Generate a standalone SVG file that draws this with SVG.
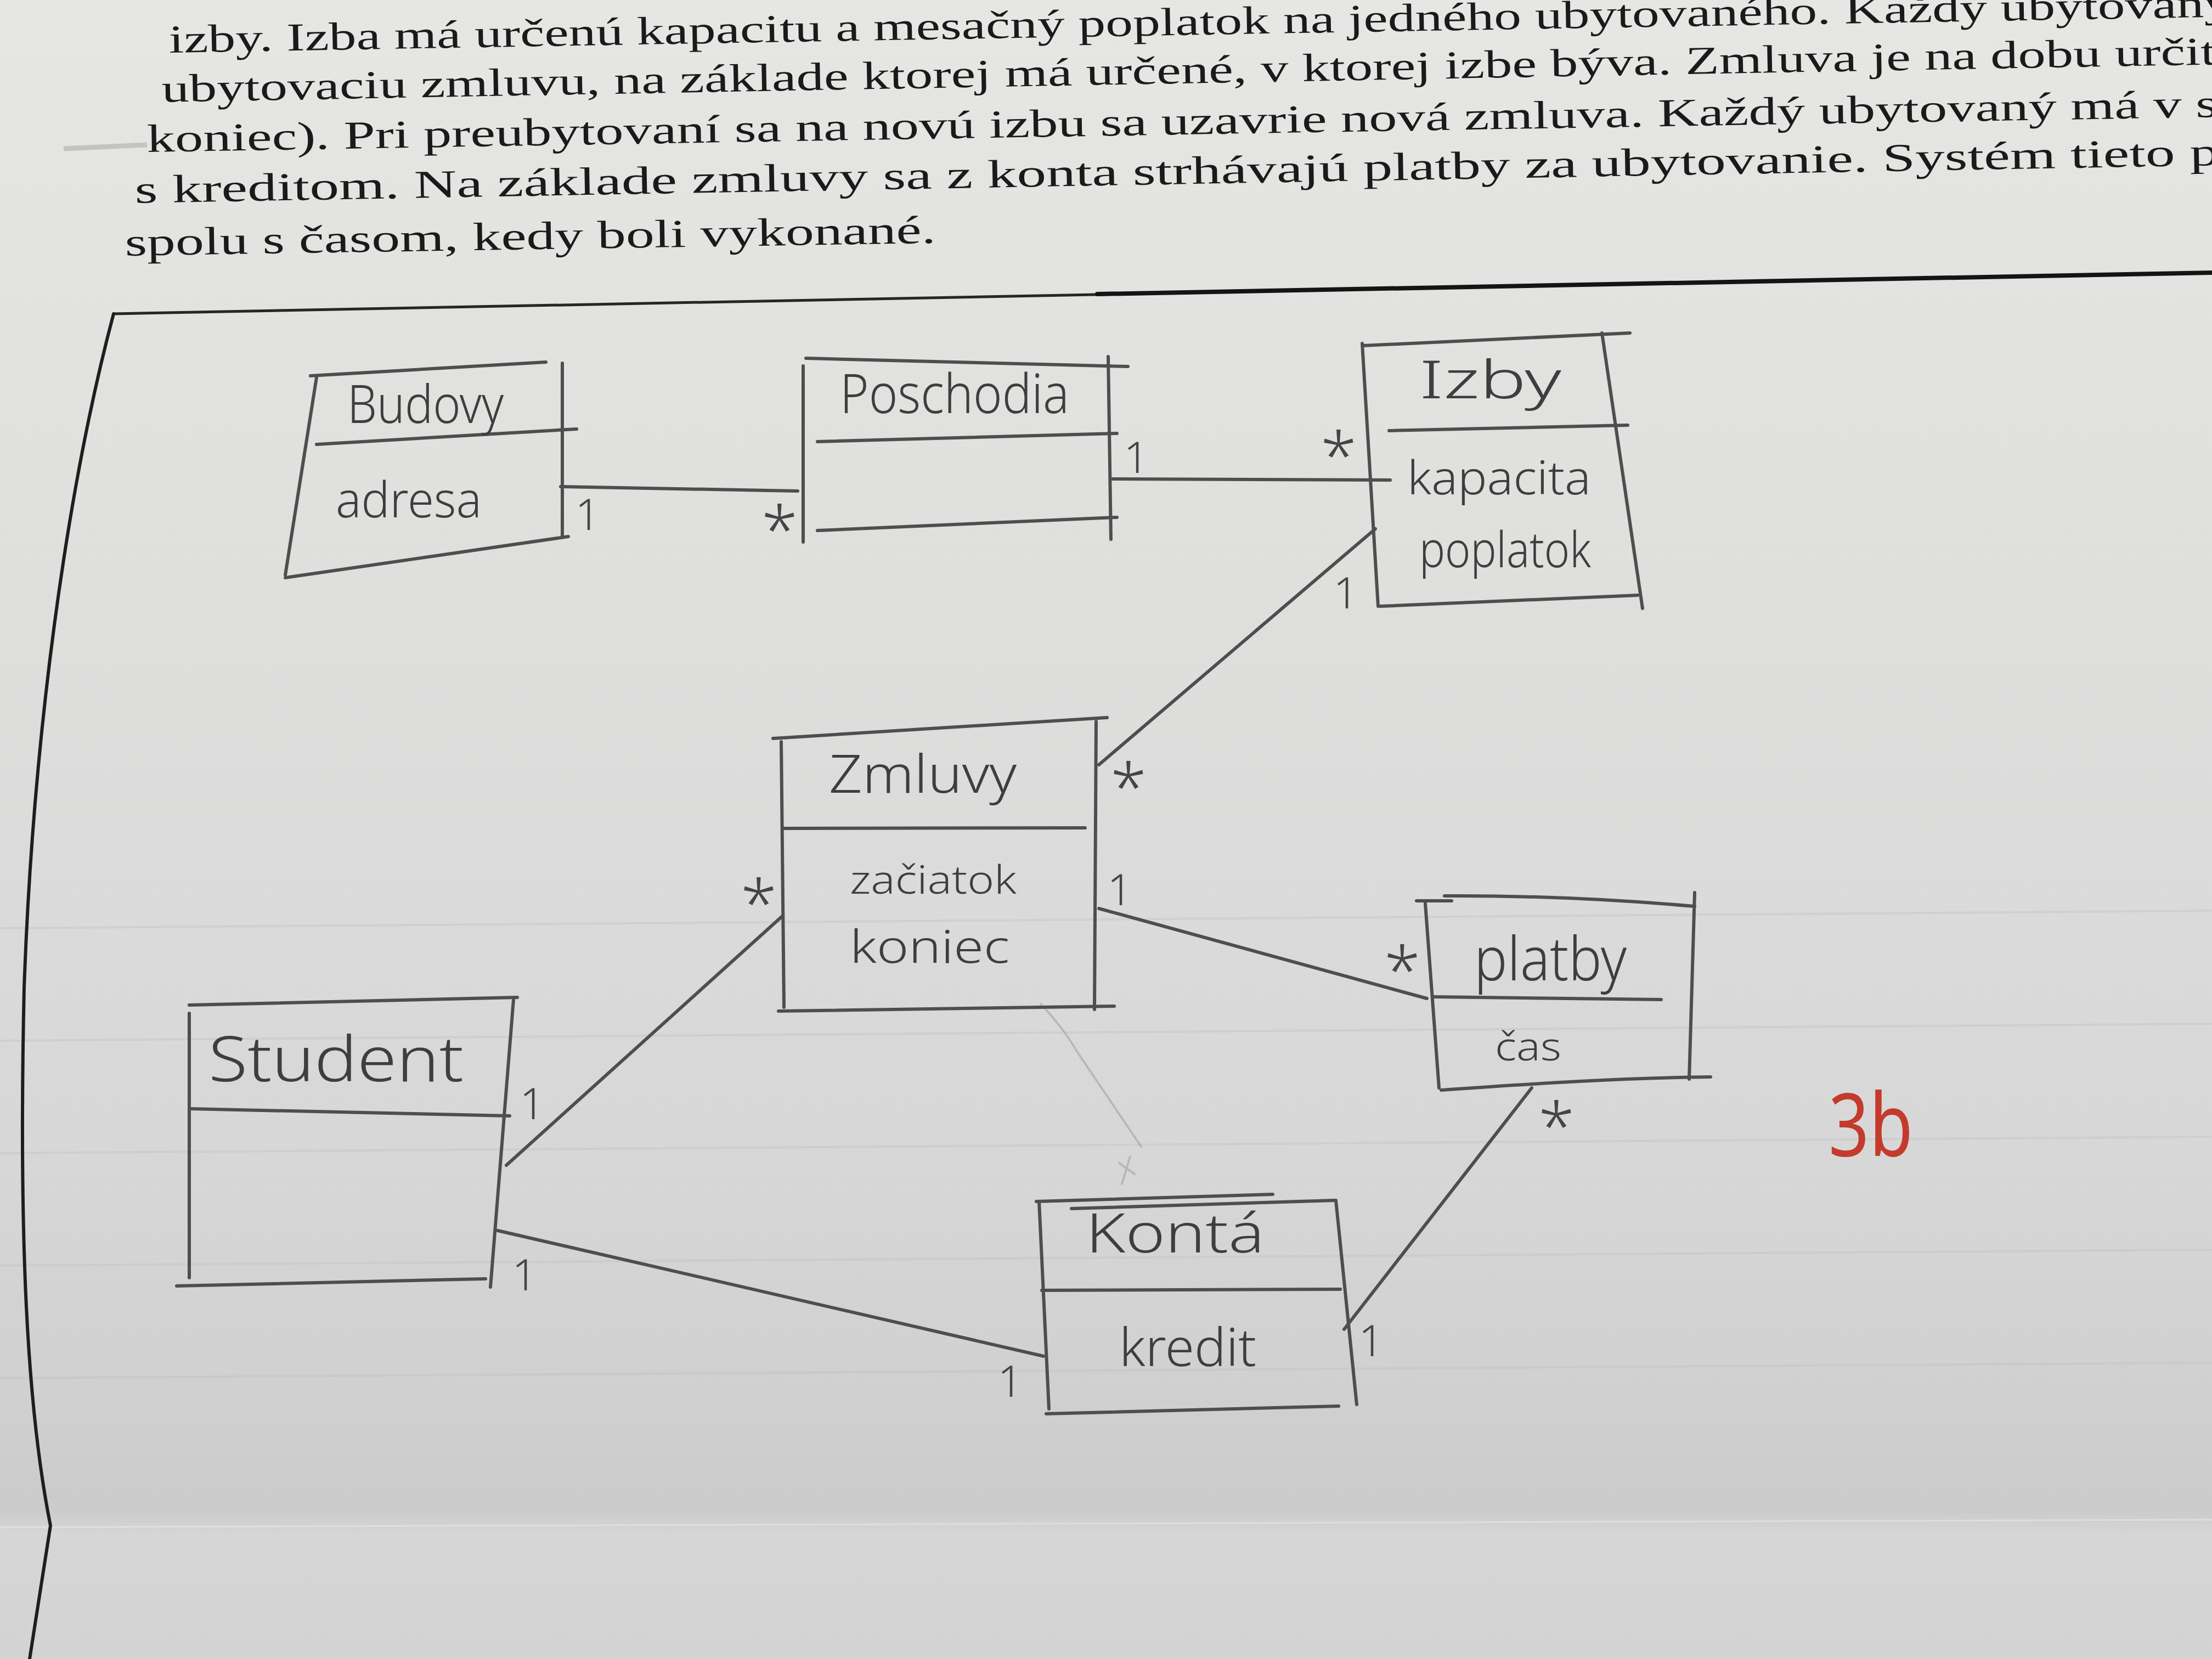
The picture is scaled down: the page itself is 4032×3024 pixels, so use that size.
<svg xmlns="http://www.w3.org/2000/svg" width="4032" height="3024" viewBox="0 0 4032 3024">
  <defs>
    <linearGradient id="paper" x1="0" y1="0" x2="0" y2="1">
      <stop offset="0" stop-color="#e6e6e4"/>
      <stop offset="0.35" stop-color="#dfdfde"/>
      <stop offset="0.7" stop-color="#d7d7d7"/>
      <stop offset="0.84" stop-color="#d0d0d0"/>
      <stop offset="0.91" stop-color="#cbcbcb"/>
      <stop offset="0.925" stop-color="#d6d6d6"/>
      <stop offset="1" stop-color="#d3d3d3"/>
    </linearGradient>
    <style>
      .pen { fill: none; stroke: #4e4e4e; stroke-width: 6; stroke-linecap: round; stroke-linejoin: round; }
      .faint { fill: none; stroke: #8a8a8a; stroke-width: 4; stroke-linecap: round; opacity: 0.4; }
      .ghost { fill: none; stroke: #b8b8b8; stroke-width: 4; opacity: 0.28; }
      .hand { font-family: "Noto Sans", "DejaVu Sans", sans-serif; font-weight: 300; fill: #3e3e3e; }
      .mult { font-family: "Noto Sans", "DejaVu Sans", sans-serif; font-weight: 300; fill: #454545; text-anchor: middle; }
      .one { font-size: 80px; }
      .star { font-size: 120px; }
      .print { font-family: "Liberation Serif", "DejaVu Serif", serif; fill: #1a1a1a; font-size: 72px; }
    </style>
  </defs>

  <!-- paper -->
  <rect x="0" y="0" width="4032" height="3024" fill="url(#paper)"/>

  <!-- faint ruling showing through the sheet -->
  <g id="show-through">
    <path class="ghost" d="M0,1692 L4032,1660"/>
    <path class="ghost" d="M0,1897 L4032,1866"/>
    <path class="ghost" d="M0,2102 L4032,2072"/>
    <path class="ghost" d="M0,2307 L4032,2278"/>
    <path class="ghost" d="M0,2512 L4032,2484"/>
    <path d="M0,2784 L4032,2770" stroke="#ececec" stroke-width="3" opacity="0.5"/>
  </g>

  <!-- printed assignment text -->
  <g id="assignment">
    <text class="print" x="308" y="96" textLength="3760" lengthAdjust="spacingAndGlyphs" transform="rotate(-1 308 96)">izby. Izba má určenú kapacitu a mesačný poplatok na jedného ubytovaného. Každý ubytovaný</text>
    <text class="print" x="295" y="186" textLength="3745" lengthAdjust="spacingAndGlyphs" transform="rotate(-1.05 295 186)">ubytovaciu zmluvu, na základe ktorej má určené, v ktorej izbe býva. Zmluva je na dobu určit</text>
    <text class="print" x="268" y="277" textLength="3775" lengthAdjust="spacingAndGlyphs" transform="rotate(-0.97 268 277)">koniec). Pri preubytovaní sa na novú izbu sa uzavrie nová zmluva. Každý ubytovaný má v s</text>
    <text class="print" x="246" y="370" textLength="3800" lengthAdjust="spacingAndGlyphs" transform="rotate(-1.04 246 370)">s kreditom. Na základe zmluvy sa z konta strhávajú platby za ubytovanie. Systém tieto p</text>
    <text class="print" x="228" y="466" textLength="1478" lengthAdjust="spacingAndGlyphs" transform="rotate(-0.9 228 466)">spolu s časom, kedy boli vykonané.</text>
    <path d="M116,271 L268,264" stroke="#9c9c9c" stroke-width="9" opacity="0.45" fill="none"/>
  </g>

  <!-- answer frame -->
  <g id="frame" fill="none" stroke-linecap="round">
    <path d="M207,572 L4032,497" stroke="#262626" stroke-width="5"/>
    <path d="M2000,536 L4032,497" stroke="#141414" stroke-width="8"/>
    <path d="M207,572 C120,900 60,1350 44,1800 C34,2250 48,2560 92,2781 L54,3024" stroke="#1e1e1e" stroke-width="6"/>
  </g>

  <!-- associations -->
  <g id="connectors">
    <path class="pen" d="M1022,887 L1454,895"/>
    <path class="pen" d="M2025,873 L2534,875"/>
    <path class="pen" d="M2003,1394 L2507,964"/>
    <path class="pen" d="M2003,1656 L2601,1820"/>
    <path class="pen" d="M923,2124 L1427,1669"/>
    <path class="pen" d="M907,2243 L1902,2472"/>
    <path class="pen" d="M2450,2423 L2792,1983"/>
    <path class="faint" d="M1897,1830 C1925,1860 1945,1885 1962,1915 L2080,2090"/>
    <path class="faint" d="M2040,2120 L2068,2140 M2060,2108 L2045,2158"/>
  </g>

  <g id="multiplicities">
    <text class="mult one" x="1071" y="966">1</text>
    <text class="mult star" x="1421" y="1009">*</text>
    <text class="mult one" x="2071" y="862">1</text>
    <text class="mult star" x="2440" y="874">*</text>
    <text class="mult one" x="2453" y="1109">1</text>
    <text class="mult star" x="2057" y="1478">*</text>
    <text class="mult one" x="2041" y="1650">1</text>
    <text class="mult star" x="1383" y="1690">*</text>
    <text class="mult star" x="2556" y="1812">*</text>
    <text class="mult star" x="2837" y="2096">*</text>
    <text class="mult one" x="970" y="2040">1</text>
    <text class="mult one" x="956" y="2352">1</text>
    <text class="mult one" x="1841" y="2546">1</text>
    <text class="mult one" x="2499" y="2472">1</text>
  </g>

  <g id="budovy">
    <path class="pen" d="M566,685 L995,660"/>
    <path class="pen" d="M577,688 L520,1048"/>
    <path class="pen" d="M1025,662 L1025,977"/>
    <path class="pen" d="M577,810 L1051,782"/>
    <path class="pen" d="M520,1053 L1036,978"/>
    <text class="hand" x="633" y="771" font-size="95" textLength="285" lengthAdjust="spacingAndGlyphs">Budovy</text>
    <text class="hand" x="612" y="943" font-size="90" textLength="266" lengthAdjust="spacingAndGlyphs">adresa</text>
  </g>

  <g id="poschodia">
    <path class="pen" d="M1469,653 L2056,668"/>
    <path class="pen" d="M1464,667 L1464,988"/>
    <path class="pen" d="M2020,650 L2025,983"/>
    <path class="pen" d="M1490,805 L2036,790"/>
    <path class="pen" d="M1490,967 L2036,943"/>
    <text class="hand" x="1531" y="753" font-size="100" textLength="418" lengthAdjust="spacingAndGlyphs">Poschodia</text>
  </g>

  <g id="izby">
    <path class="pen" d="M2485,630 L2971,607"/>
    <path class="pen" d="M2483,626 L2512,1105"/>
    <path class="pen" d="M2920,607 L2994,1109"/>
    <path class="pen" d="M2532,785 L2967,775"/>
    <path class="pen" d="M2516,1105 L2985,1085"/>
    <text class="hand" x="2587" y="726" font-size="95" textLength="259" lengthAdjust="spacingAndGlyphs">Izby</text>
    <text class="hand" x="2565" y="901" font-size="85" textLength="335" lengthAdjust="spacingAndGlyphs">kapacita</text>
    <text class="hand" x="2587" y="1034" font-size="90" textLength="313" lengthAdjust="spacingAndGlyphs">poplatok</text>
  </g>

  <g id="zmluvy">
    <path class="pen" d="M1409,1346 L2018,1308"/>
    <path class="pen" d="M1424,1352 L1429,1836"/>
    <path class="pen" d="M1998,1315 L1995,1840"/>
    <path class="pen" d="M1429,1510 L1978,1509"/>
    <path class="pen" d="M1419,1843 L2031,1834"/>
    <text class="hand" x="1511" y="1445" font-size="95" textLength="342" lengthAdjust="spacingAndGlyphs">Zmluvy</text>
    <text class="hand" x="1549" y="1629" font-size="72" textLength="304" lengthAdjust="spacingAndGlyphs">začiatok</text>
    <text class="hand" x="1549" y="1755" font-size="82" textLength="291" lengthAdjust="spacingAndGlyphs">koniec</text>
  </g>

  <g id="platby">
    <path class="pen" d="M2582,1642 L2646,1642"/>
    <path class="pen" d="M2633,1633 C2800,1632 2950,1640 3089,1652"/>
    <path class="pen" d="M2598,1647 L2623,1983"/>
    <path class="pen" d="M3089,1627 L3079,1967"/>
    <path class="pen" d="M2614,1817 L3028,1822"/>
    <path class="pen" d="M2627,1987 C2800,1975 2950,1965 3118,1963"/>
    <text class="hand" x="2687" y="1787" font-size="110" textLength="278" lengthAdjust="spacingAndGlyphs">platby</text>
    <text class="hand" x="2725" y="1933" font-size="72" textLength="121" lengthAdjust="spacingAndGlyphs">čas</text>
  </g>

  <g id="student">
    <path class="pen" d="M345,1832 L943,1818"/>
    <path class="pen" d="M345,1847 L345,2329"/>
    <path class="pen" d="M936,1822 L894,2346"/>
    <path class="pen" d="M347,2021 L929,2034"/>
    <path class="pen" d="M322,2344 L885,2331"/>
    <text class="hand" x="380" y="1971" font-size="115" textLength="465" lengthAdjust="spacingAndGlyphs">Student</text>
  </g>

  <g id="konta">
    <path class="pen" d="M1889,2190 L2320,2177"/>
    <path class="pen" d="M1953,2203 L2433,2188"/>
    <path class="pen" d="M1894,2190 L1912,2568"/>
    <path class="pen" d="M2435,2188 L2473,2560"/>
    <path class="pen" d="M1899,2352 L2443,2350"/>
    <path class="pen" d="M1907,2577 L2440,2563"/>
    <text class="hand" x="1979" y="2283" font-size="100" textLength="326" lengthAdjust="spacingAndGlyphs">Kontá</text>
    <text class="hand" x="2040" y="2490" font-size="95" textLength="250" lengthAdjust="spacingAndGlyphs">kredit</text>
  </g>

  <!-- grade mark in red -->
  <text id="grade" x="3333" y="2107" font-family="Noto Sans, DejaVu Sans, sans-serif" font-size="160" fill="#c43a2c" textLength="154" lengthAdjust="spacingAndGlyphs">3b</text>
</svg>
